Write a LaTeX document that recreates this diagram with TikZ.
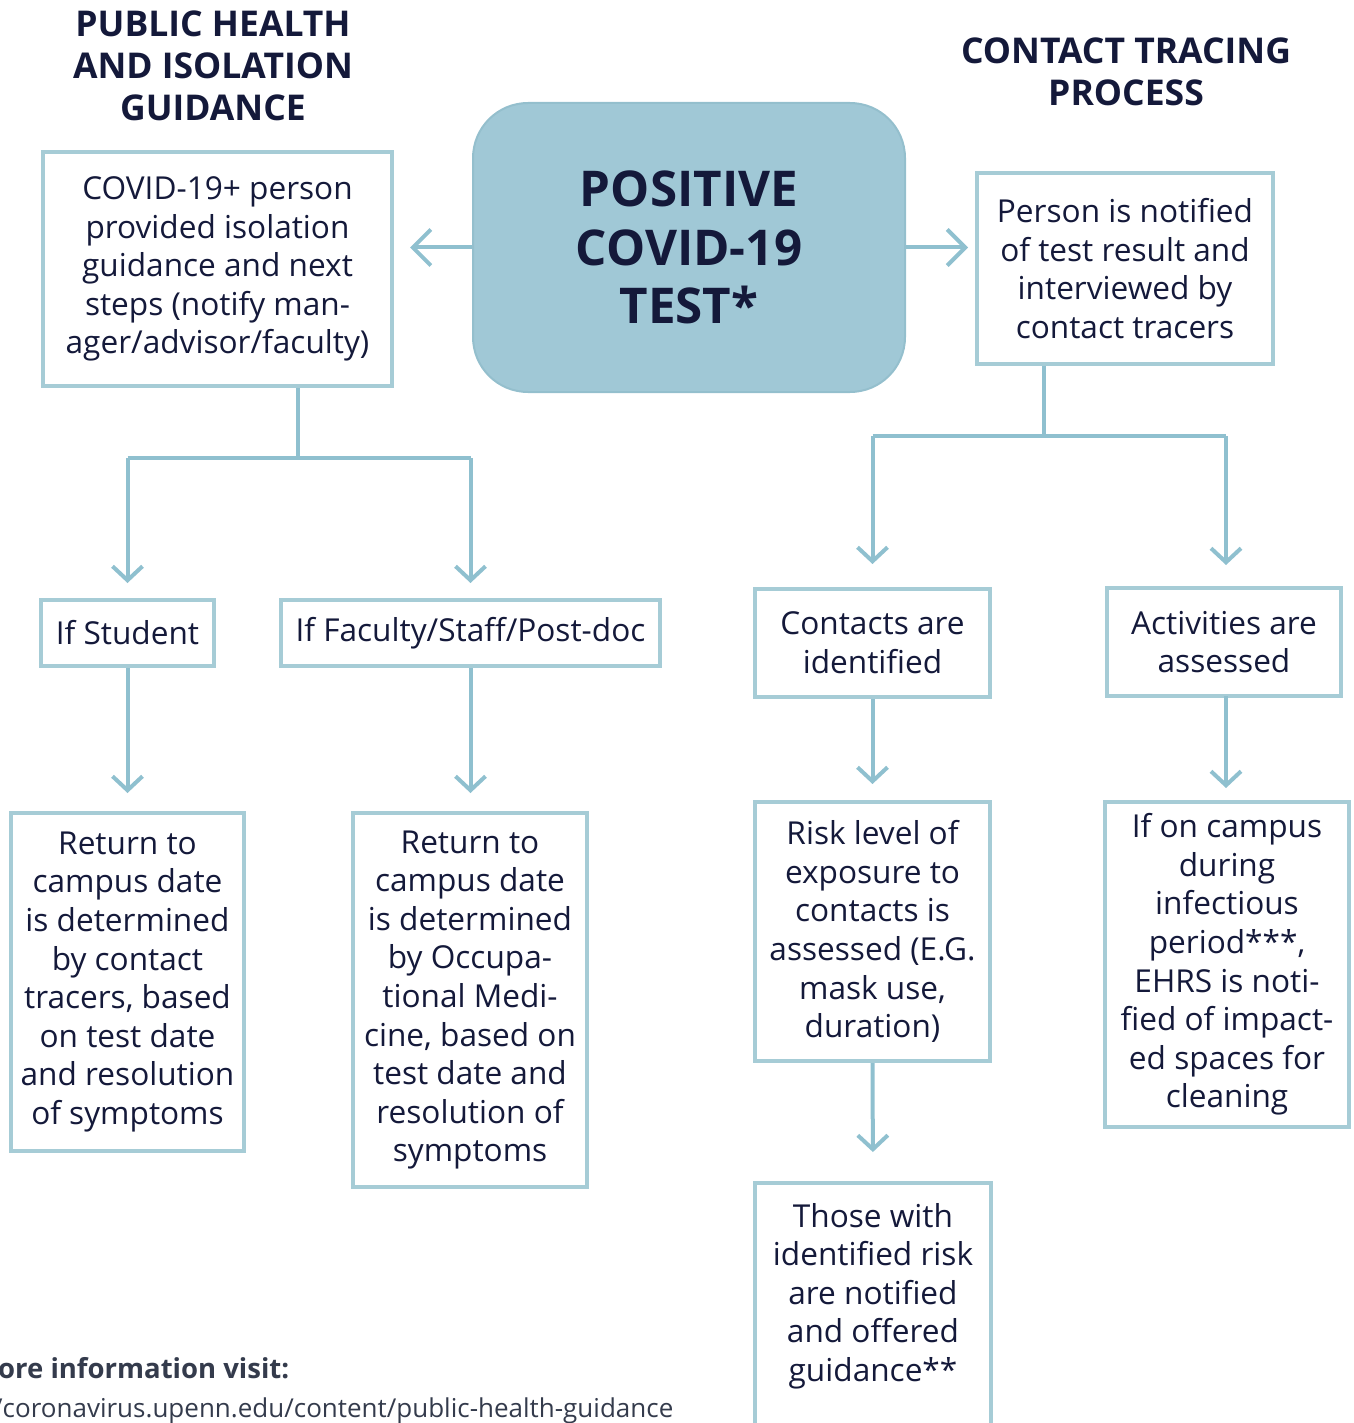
\documentclass[tikz,border=0pt]{standalone}
\usepackage{fontspec}
\setmainfont{Open Sans}
\usetikzlibrary{arrows.meta,calc}
\definecolor{boxc}{HTML}{A6CCD6}
\definecolor{arrc}{HTML}{8FC0CF}
\definecolor{ctrc}{HTML}{A0C8D6}
\definecolor{ctrb}{HTML}{94BFCD}
\definecolor{txtc}{HTML}{14193A}
\definecolor{footc}{HTML}{343B4C}
\newcommand{\bodyfont}{\fontsize{31.6}{38.6}\selectfont}
\tikzset{
  box/.style={draw=boxc, line width=4pt, fill=white, inner sep=0pt, align=center, font=\bodyfont, text=txtc},
  txtonly/.style={inner sep=0pt, align=center, font=\bodyfont, text=txtc},
  head/.style={inner sep=0pt, align=center, font=\fontsize{35.5}{42}\selectfont\bfseries, text=txtc},
  conn/.style={draw=arrc, line width=4pt},
  arr/.style={conn, -{Straight Barb[length=14pt,width=30pt,line width=4pt]}},
  bigarr/.style={conn, -{Straight Barb[length=18pt,width=36pt,line width=4pt]}},
  foot/.style={inner sep=0pt, anchor=base west, text=footc},
}
\begin{document}
\begin{tikzpicture}[x=1pt,y=-1pt]
\useasboundingbox (0,0) rectangle (1353,1423);
\begin{scope}
\clip (0,0) rectangle (1353,1423);
% headers
\node[head] (h1) at (213,66) {PUBLIC HEALTH\\AND ISOLATION\\GUIDANCE};
\node[head] (h2) at (1126,72) {CONTACT TRACING\\PROCESS};
% center
\node[draw=ctrb, fill=ctrc, line width=2pt, rounded corners=55pt, minimum width=432pt, minimum height=289pt, inner sep=0pt, align=center, text=txtc, font=\fontsize{49.3}{58.5}\selectfont\bfseries] (ctr) at (689,247.5) {POSITIVE\\COVID-19\\TEST*};
% top boxes
\node[box, minimum width=349pt, minimum height=234pt] (lt) at (217.5,269) {COVID-19+ person\\provided isolation\\guidance and next\\steps (notify man-\\ager/advisor/faculty)};
\node[box, minimum width=296pt, minimum height=191pt] (rt) at (1125,268.5) {Person is notified\\of test result and\\interviewed by\\contact tracers};
% second row
\node[box, minimum width=173pt, minimum height=66pt] (stu) at (127.5,633) {If Student};
\node[box, minimum width=379pt, minimum height=66pt] (fac) at (470.5,633) {If Faculty/Staff/Post-doc};
\node[box, minimum width=235pt, minimum height=108pt] (con) at (872.5,643) {Contacts are\\identified};
\node[box, minimum width=234pt, minimum height=108pt] (act) at (1224,642) {Activities are\\assessed};
% third row
\node[box, minimum width=233pt, minimum height=338pt] (ret1) at (127.5,982) {Return to\\campus date\\is determined\\by contact\\tracers, based\\on test date\\and resolution\\of symptoms};
\node[box, minimum width=234pt, minimum height=374pt] (ret2) at (470,1000) {Return to\\campus date\\is determined\\by Occupa-\\tional Medi-\\cine, based on\\test date and\\resolution of\\symptoms};
\node[box, minimum width=235pt, minimum height=259pt] (risk) at (872.5,931.5) {Risk level of\\exposure to\\contacts is\\assessed (E.G.\\mask use,\\duration)};
\node[box, minimum width=244pt, minimum height=325pt] (camp) at (1227,964.5) {If on campus\\during\\infectious\\period***,\\EHRS is noti-\\fied of impact-\\ed spaces for\\cleaning};
% bottom box (cut by page edge)
\node[box, anchor=north, minimum width=236pt, minimum height=280pt] (those) at (873,1181) {};
\node[txtonly] (thosetxt) at (873,1296) {Those with\\identified risk\\are notified\\and offered\\guidance**};
% connectors
\draw[bigarr, shorten >=16pt] (ctr.west) -- (lt.east |- ctr.west);
\draw[bigarr, shorten >=7pt] (ctr.east) -- (rt.west |- ctr.east);
\coordinate (ls) at (298,458);
\draw[conn] (lt.south -| ls) -- (ls);
\draw[conn] (stu.north |- ls) -- (fac.north |- ls);
\draw[arr, shorten >=15pt] (stu.north |- ls) -- (stu.north);
\draw[arr, shorten >=15pt] (fac.north |- ls) -- (fac.north);
\coordinate (rs) at (1044,436);
\draw[conn] (rt.south -| rs) -- (rs);
\draw[conn] (con.north |- rs) -- (1226,436);
\draw[arr, shorten >=23pt] (con.north |- rs) -- (con.north);
\draw[arr, shorten >=23pt] (1226,436) -- (1226,588);
\draw[arr, shorten >=18pt] (stu.south) -- (ret1.north);
\draw[arr, shorten >=18pt] (fac.south) -- (fac.south |- ret2.north);
\draw[arr, shorten >=16pt] (con.south) -- (risk.north);
\draw[arr, shorten >=14pt] (1226,696) -- (1226,802);
\draw[arr, shorten >=29pt] (risk.south) -- (those.north);
% footer
\node[foot, font=\fontsize{27.5}{32}\selectfont\bfseries] (f1) at (-2,1378) {ore information visit:};
\node[foot, font=\fontsize{26}{32}\selectfont] (f2) at (-7,1417) {/coronavirus.upenn.edu/content/public-health-guidance};
\end{scope}
\end{tikzpicture}
\end{document}
